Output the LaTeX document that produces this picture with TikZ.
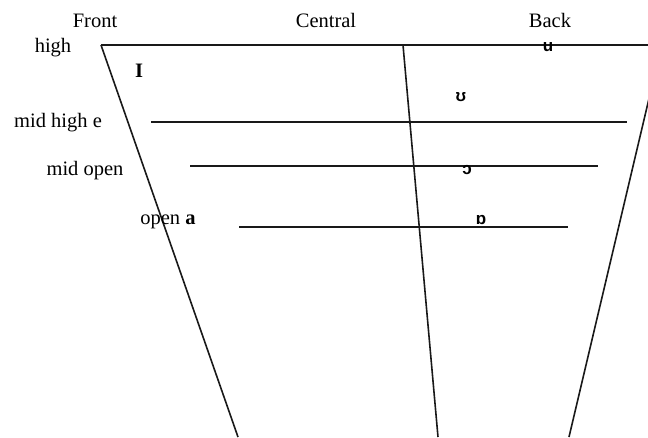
\documentclass[tikz,border=0pt]{standalone}
\usepackage{fontspec}
\setmainfont{Liberation Serif}
\newfontfamily\ipafont{Liberation Sans}
\begin{document}
\begin{tikzpicture}[x=1pt,y=-1pt,
  lbl/.style={font=\fontsize{20.5}{20.5}\selectfont, inner sep=0pt, anchor=base},
  ipa/.style={font=\ipafont\bfseries\fontsize{17}{17}\selectfont, inner sep=0pt},
  ln/.style={line width=1.6pt, black!90}]
\useasboundingbox (0,0) rectangle (648,437);
\begin{scope}
\clip (0,0) rectangle (648,437);
% frame corners
\coordinate (tl) at (101,45);
\coordinate (tr) at (660,45);
\coordinate (bl) at (238,437);
\coordinate (ct) at (403,45);
\coordinate (cb) at (438,437);
\coordinate (rt) at (660,52);
\coordinate (rb) at (569,437);
\draw[ln] (tl) -- (tr);
\draw[ln] (tl) -- (bl);
\draw[ln] (ct) -- (cb);
\draw[ln] (rt) -- (rb);
% horizontal levels
\coordinate (mh1) at (151,122); \coordinate (mh2) at (627,122);
\coordinate (mo1) at (190,166); \coordinate (mo2) at (598,166);
\coordinate (op1) at (239,227); \coordinate (op2) at (568,227);
\draw[ln] (mh1) -- (mh2);
\draw[ln] (mo1) -- (mo2);
\draw[ln] (op1) -- (op2);
\end{scope}
% labels
\node[lbl] (front) at (95,27) {Front};
\node[lbl] (central) at (326,27) {Central};
\node[lbl] (back) at (550,27) {Back};
\node[lbl] (high) at (53,52) {high};
\node[lbl] (ii) at (139,77) {\textbf{I}};
\node[lbl] (midhigh) at (58,127) {mid high e};
\node[lbl] (midopen) at (85,175) {mid open};
\node[lbl] (open) at (168,224) {open \textbf{a}};
% IPA symbols
\node[ipa] (u) at (548,47) {u};
\node[ipa] (upsilon) at (461,97) {ʊ};
\node[ipa] (openo) at (467,170) {ɔ};
\node[ipa] (turneda) at (481,220) {ɒ};
\end{tikzpicture}
\end{document}
